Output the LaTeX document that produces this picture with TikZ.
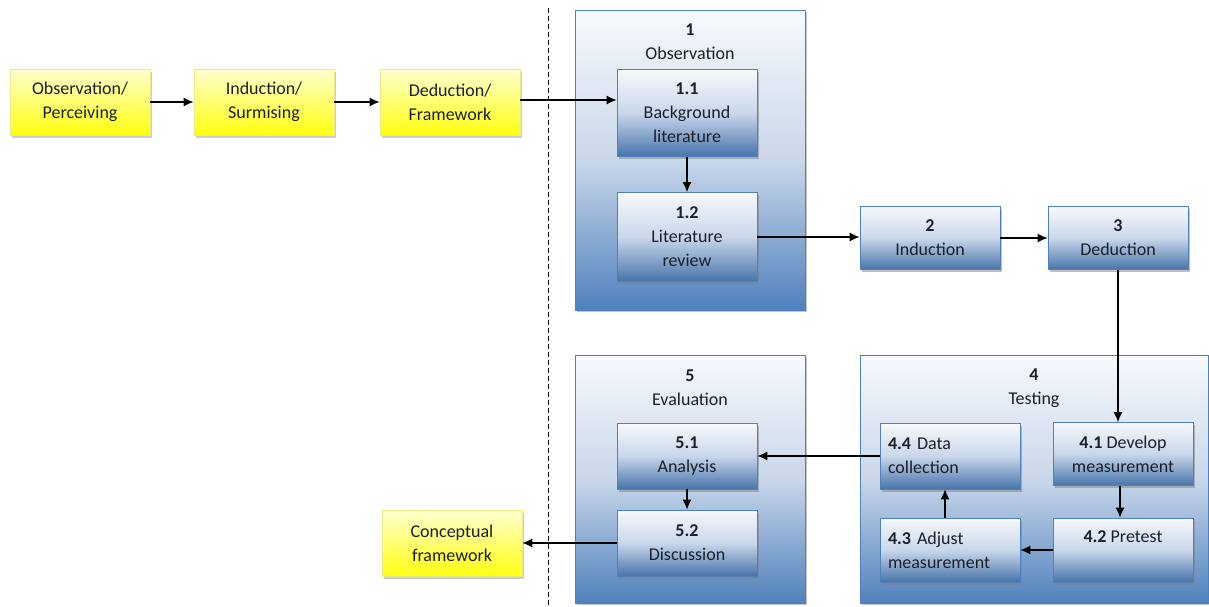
\documentclass[tikz,border=0pt]{standalone}
\usepackage{fontspec}
\setmainfont{Carlito}
\usetikzlibrary{arrows.meta,shadows}

\definecolor{stepblue}{HTML}{4F81BD}
\definecolor{paleblue}{HTML}{F7F9FC}
\definecolor{midblue}{HTML}{C9D7EA}
\definecolor{inkcol}{HTML}{1A1F2A}
\definecolor{lemon}{HTML}{FFFF10}
\definecolor{lemonpale}{HTML}{FFFFD0}
\definecolor{lemonedge}{HTML}{EDE98A}

\tikzset{
  txt/.style={font=\fontsize{18}{24}\selectfont, text=inkcol, align=center},
  groupbox/.style={rectangle, draw=stepblue, line width=0.8pt,
    top color=paleblue, bottom color=stepblue, middle color=midblue,
    drop shadow={shadow xshift=2pt, shadow yshift=-2pt, opacity=0.45}},
  stepbox/.style={rectangle, draw=stepblue, line width=0.8pt, txt,
    top color=paleblue, bottom color=stepblue!90!black, middle color=midblue,
    minimum width=140, inner sep=0pt,
    drop shadow={shadow xshift=2pt, shadow yshift=-2.5pt, opacity=0.5}},
  leftbox/.style={stepbox, align=left, text width=124pt, inner xsep=8pt},
  notebox/.style={rectangle, draw=lemonedge, line width=0.8pt, txt,
    top color=lemonpale, bottom color=lemon, minimum width=140, minimum height=66,
    inner sep=0pt,
    drop shadow={shadow xshift=2pt, shadow yshift=-2.5pt, opacity=0.4}},
  flow/.style={-{Latex[length=10pt,width=9pt]}, line width=1.2pt, black},
}

\begin{document}
\begin{tikzpicture}[x=1pt,y=-1pt]
\useasboundingbox (0,0) rectangle (1209,606);

% left-hand track of yellow notes
\node[notebox] (yobs) at (80,102) {Observation/\\Perceiving};
\node[notebox] (yind) at (264,102) {Induction/\\Surmising};
\node[notebox] (yded) at (450,102) {Deduction/\\Framework};
\node[notebox] (ycf)  at (452,543) {Conceptual\\framework};

% separator
\coordinate (sepTop) at (548,8);
\coordinate (sepBot) at (548,606);
\draw[dash pattern=on 5pt off 3pt, line width=1pt] (sepTop) -- (sepBot);

% group frames
\node[groupbox, minimum width=230, minimum height=300] (g1) at (690,160) {};
\node[groupbox, minimum width=230, minimum height=248] (g5) at (690,479) {};
\node[groupbox, minimum width=348, minimum height=248] (g4) at (1034,479) {};

\node[txt] (g1t) at (690,42) {\textbf{1}\\Observation};
\node[txt] (g5t) at (690,388) {\textbf{5}\\Evaluation};
\node[txt] (g4t) at (1034,388) {\textbf{4}\\Testing};

% steps
\node[stepbox, minimum height=87] (b11) at (687,113) {\textbf{1.1}\\Background\\literature};
\node[stepbox, minimum height=89] (b12) at (687,237) {\textbf{1.2}\\Literature\\review};
\node[stepbox, minimum height=63] (b2) at (930,238) {\textbf{2}\\Induction};
\node[stepbox, minimum height=63] (b3) at (1118,238) {\textbf{3}\\Deduction};

\node[stepbox, minimum height=63] (b41) at (1123,454) {\textbf{4.1} Develop\\measurement};
\node[stepbox, minimum height=64] (b42) at (1123,550) {\textbf{4.2} Pretest\\[-4pt]\strut};
\node[leftbox, minimum height=64] (b43) at (950,550) {\textbf{4.3} Adjust\\measurement};
\node[leftbox, minimum height=66] (b44) at (950,456) {\textbf{4.4} Data\\collection};

\node[stepbox, minimum height=66] (b51) at (687,456) {\textbf{5.1}\\Analysis};
\node[stepbox, minimum height=66] (b52) at (687,543) {\textbf{5.2}\\Discussion};

% connectors
\draw[flow] (yobs) -- (yind);
\draw[flow] (yind) -- (yded);
\draw[flow] (yded.east |- 0,100) -- (b11.west |- 0,100);
\draw[flow] (b11) -- (b12);
\draw[flow] (b12.east) -- (b12.east -| b2.west);
\draw[flow] (b2) -- (b3);
\draw[flow] (b3.south) -- (b3.south |- b41.north);
\draw[flow] (b41.south -| 1120,0) -- (b42.north -| 1120,0);
\draw[flow] (b42.west) -- (b42.west -| b43.east);
\draw[flow] (b43.north -| 945,0) -- (b44.south -| 945,0);
\draw[flow] (b44.west) -- (b44.west -| b51.east);
\draw[flow] (b51) -- (b52);
\draw[flow] (b52.west) -- (b52.west -| ycf.east);
\end{tikzpicture}
\end{document}
